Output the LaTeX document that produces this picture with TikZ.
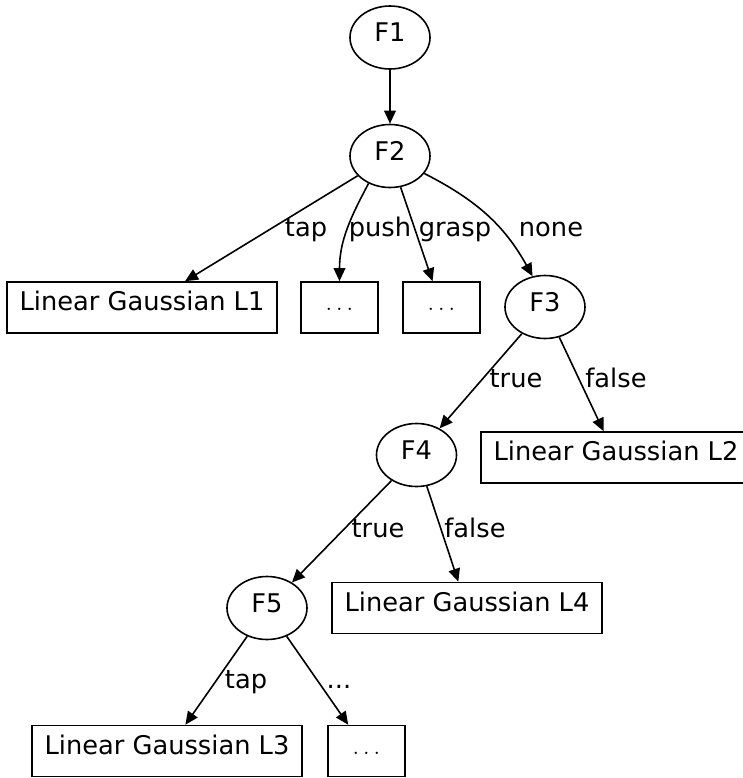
\documentclass[tikz,border=0pt]{standalone}
\usepackage{fontspec}
\setmainfont{DejaVu Sans}
\usetikzlibrary{shapes.geometric,arrows.meta}
\begin{document}
\begin{tikzpicture}[x=0.5pt,y=-0.5pt,line width=0.8pt,
        font=\fontsize{12.85}{15}\selectfont,
        >={Triangle[length=6.5pt,width=5.8pt]},
        feat/.style={ellipse,draw,inner sep=0pt,minimum width=40pt,
          minimum height=31.5pt,text height=0.73em,text depth=0.33em},
        leaf/.style={rectangle,draw,inner sep=0pt,minimum width=135pt,
          minimum height=25.5pt,text height=0.73em,text depth=0.39em},
        more/.style={leaf,minimum width=38.5pt},
        lbl/.style={anchor=base,inner sep=0pt}]
      \clip (0,0) rectangle (743,778);
      \node (f1) at (390,37.5) [feat] {F1};
      \node (f2) at (390,156) [feat] {F2};
      \node (l1) at (142,307.5) [leaf] {Linear Gaussian L1};
      \node (d1) at (339.5,307.5) [more] {$\ldots$};
      \node (d2) at (441.5,307.5) [more] {$\ldots$};
      \node (f3) at (545,307) [feat] {F3};
      \node (f4) at (416.5,455) [feat] {F4};
      \node (l2) at (616,457.5) [leaf] {Linear Gaussian L2};
      \node (f5) at (267,608) [feat] {F5};
      \node (l4) at (467,608) [leaf] {Linear Gaussian L4};
      \node (l3) at (167,751) [leaf] {Linear Gaussian L3};
      \node (d3) at (366.5,751) [more] {$\ldots$};
      % edge labels
      \node (e1) at (306,236) [lbl] {tap};
      \node (e2) at (380,236) [lbl] {push};
      \node (e3) at (455,236) [lbl] {grasp};
      \node (e4) at (551,236) [lbl] {none};
      \node (e5) at (516,387) [lbl] {true};
      \node (e6) at (616,387) [lbl] {false};
      \node (e7) at (378,537) [lbl] {true};
      \node (e8) at (475,537) [lbl] {false};
      \node (e9) at (246,688) [lbl] {tap};
      \node (e10) at (339,688) [lbl] {...};
      \draw (f1) edge[->] (f2);
      \draw (f2) edge[->] (l1);
      \draw (f2.-128) edge[->,out=-118,in=90] (d1.north);
      \draw (f2) edge[->] (d2);
      \draw (f2.-27) edge[->,out=-27,in=119] (f3.112);
      \draw (f3) edge[->] (f4);
      \draw (f3) edge[->] (l2);
      \draw (f4) edge[->] (f5);
      \draw (f4) edge[->] (l4);
      \draw (f5) edge[->] (l3);
      \draw (f5) edge[->] (d3);
\end{tikzpicture}
\end{document}
